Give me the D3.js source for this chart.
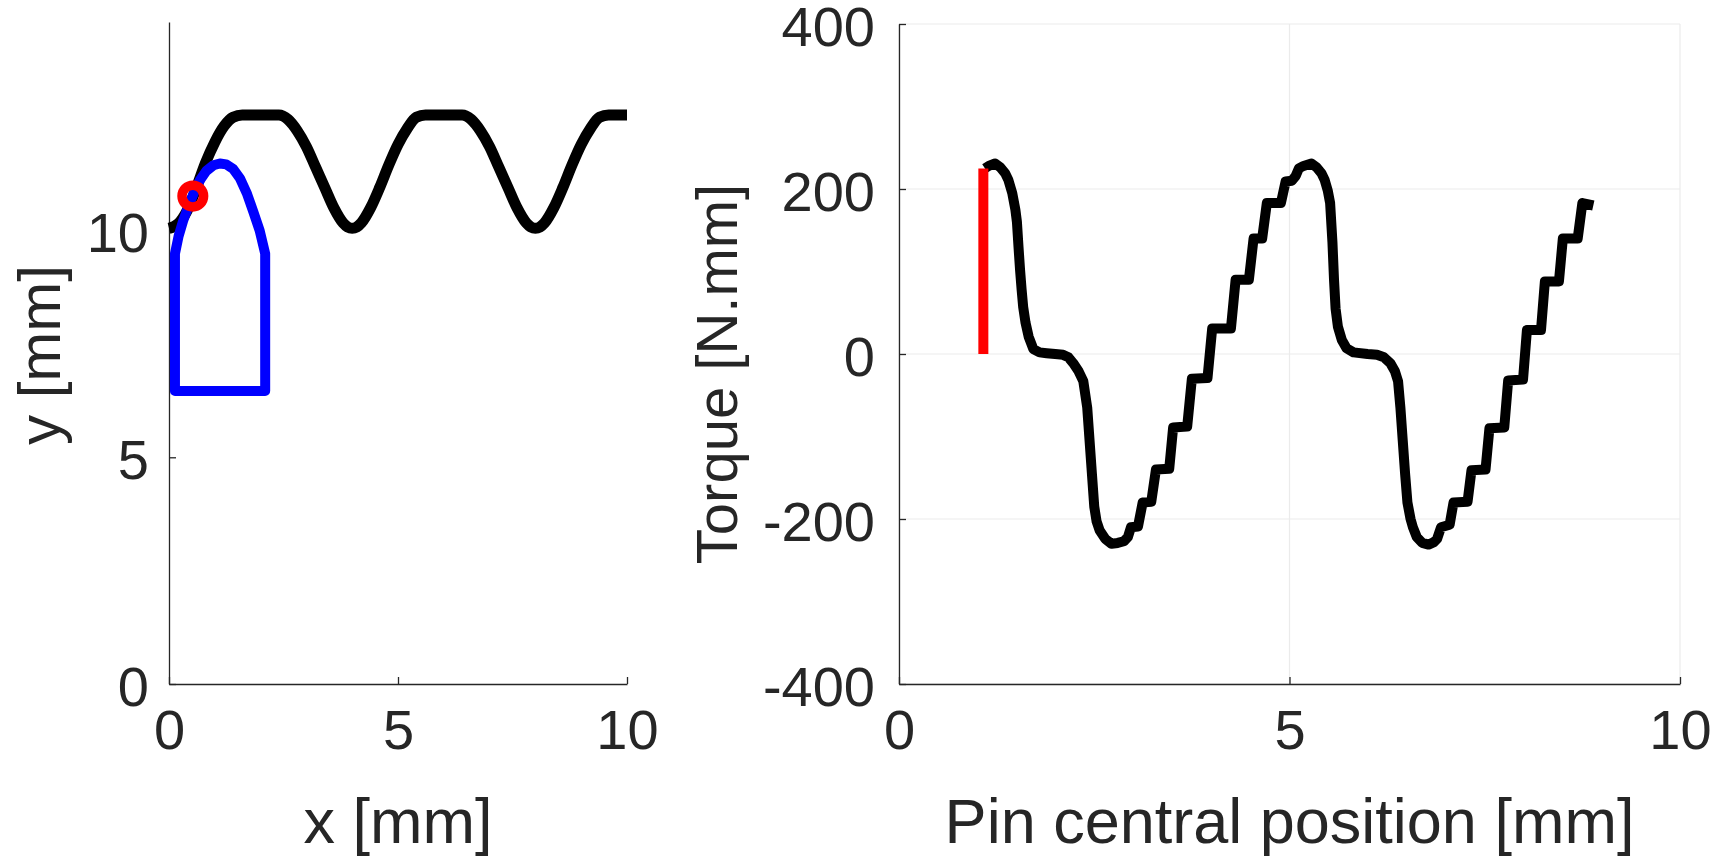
<!DOCTYPE html>
<html>
<head>
<meta charset="utf-8">
<script src="https://cdn.jsdelivr.net/npm/d3@7"></script>
<style>
  body { margin: 0; background: #fff; }
  svg { display: block; font-family: "Liberation Sans", Arial, sans-serif; }
</style>
</head>
<body>
<div id="chart"></div>
<script>
// cam profile (left panel)
const profileX = [0, 0.2, 0.4, 0.6, 0.8, 1.0, 1.2, 1.4, 1.6, 2.4, 2.6, 2.8, 3.0, 3.2, 3.4, 3.6, 3.8, 3.9, 4.0, 4.1,
                  4.2, 4.4, 4.6, 4.8, 5.0, 5.2, 5.4, 5.6, 6.4, 6.6, 6.8, 7.0, 7.2, 7.4, 7.6, 7.8, 7.9, 8.0, 8.1,
                  8.2, 8.4, 8.6, 8.8, 9.0, 9.2, 9.4, 9.6, 10];
const profileY = [10.05, 10.15, 10.45, 10.95, 11.5, 11.95, 12.3, 12.5, 12.55, 12.55, 12.45, 12.2, 11.85, 11.4, 10.95, 10.5, 10.17, 10.08, 10.05, 10.08,
                  10.17, 10.5, 10.95, 11.45, 11.9, 12.25, 12.5, 12.55, 12.55, 12.45, 12.2, 11.85, 11.4, 10.95, 10.5, 10.17, 10.08, 10.05, 10.08,
                  10.17, 10.5, 10.95, 11.45, 11.9, 12.25, 12.5, 12.55, 12.55];

// pin outline
const pinX = [0.13, 2.10, 2.10, 1.98, 1.84, 1.70, 1.55, 1.40, 1.25, 1.11, 0.97, 0.82, 0.68, 0.55, 0.43, 0.31, 0.21, 0.13];
const pinY = [6.46, 6.46, 9.49, 10.0, 10.42, 10.82, 11.15, 11.36, 11.46, 11.48, 11.44, 11.32, 11.12, 10.85, 10.55, 10.22, 9.88, 9.49];

// contact point
const contactX = 0.52;
const contactY = 10.76;

// torque vs pin central position (right panel)
const torquePos = [1.10, 1.15, 1.23, 1.30, 1.36, 1.40, 1.45, 1.49, 1.51, 1.53, 1.55, 1.57, 1.59, 1.62, 1.66, 1.72, 1.80, 1.89,
                   2.00, 2.10, 2.17, 2.23, 2.30, 2.36, 2.41, 2.44, 2.47, 2.50, 2.53, 2.57, 2.64, 2.72, 2.80, 2.88, 2.93, 2.97,
                   3.06, 3.12, 3.23, 3.29, 3.46, 3.51, 3.69, 3.75, 3.95, 4.01, 4.25, 4.31, 4.48, 4.54, 4.65, 4.71, 4.89, 4.95,
                   5.03, 5.08, 5.12, 5.18, 5.28, 5.35, 5.41, 5.45, 5.49, 5.52, 5.55, 5.57, 5.59, 5.62, 5.67, 5.73, 5.82,
                   6.00, 6.12, 6.21, 6.29, 6.35, 6.39, 6.42, 6.45, 6.48, 6.51, 6.55, 6.58, 6.63, 6.70, 6.78, 6.85, 6.89, 6.94,
                   7.05, 7.10, 7.28, 7.33, 7.51, 7.56, 7.75, 7.80, 7.99, 8.04, 8.22, 8.27, 8.45, 8.50, 8.69, 8.75, 8.89];
const torqueVal = [225, 228, 231, 226, 219, 211, 195, 175, 160, 130, 102, 78, 57, 38, 21, 6, 2, 1,
                   0, -1, -4, -11, -21, -33, -65, -105, -145, -185, -203, -214, -224, -230, -229, -227, -222, -210,
                   -209, -180, -179, -140, -139, -89, -88, -30, -29, 31, 31, 90, 90, 140, 140, 183, 183, 209,
                   210, 216, 225, 228, 231, 226, 219, 211, 198, 183, 135, 90, 55, 33, 17, 7, 2,
                   0, -1, -4, -11, -21, -33, -65, -105, -145, -180, -200, -210, -222, -229, -231, -228, -224, -210,
                   -207, -180, -179, -141, -140, -90, -89, -32, -31, 29, 29, 88, 88, 140, 140, 183, 180];

// current position marker
const markerPos = 1.08;
const markerVal = [0, 225];

// ticks
const camXTicks = [0, 5, 10];
const camYTicks = [0, 5, 10];
const torqueXTicks = [0, 5, 10];
const torqueYTicks = [-400, -200, 0, 200, 400];

const W = 1730, H = 862;
const ink = "#262626";
const tickFont = 56, labelFont = 63, vLabelFont = 60;

const svg = d3.select("#chart").append("svg")
  .attr("width", W)
  .attr("height", H);

svg.append("rect").attr("width", W).attr("height", H).attr("fill", "#fff");

function styleAxis(g) {
  g.attr("font-size", null).attr("font-family", null);
  g.select(".domain").attr("stroke", ink).attr("stroke-width", 1.3);
  g.selectAll(".tick line").attr("stroke", ink).attr("stroke-width", 1.3);
  g.selectAll(".tick text").attr("fill", ink).style("font-size", tickFont + "px");
}

// ---------- left panel ----------
const xCam = d3.scaleLinear().domain([0, 10]).range([169, 627]);
const yCam = d3.scaleLinear().domain([0, 14.6]).range([684, 22]);

svg.append("g")
  .attr("transform", `translate(0, ${yCam(0)})`)
  .call(d3.axisBottom(xCam).tickValues(camXTicks).tickFormat(d => String(d))
    .tickSizeInner(-7).tickSizeOuter(0).tickPadding(25))
  .call(styleAxis);

svg.append("g")
  .attr("transform", `translate(${xCam(0)}, 0)`)
  .call(d3.axisLeft(yCam).tickValues(camYTicks).tickFormat(d => String(d))
    .tickSizeInner(-7).tickSizeOuter(0).tickPadding(20))
  .call(styleAxis)
  .selectAll(".tick text").attr("dy", "0.38em");

const camLine = d3.line()
  .x(d => xCam(d[0]))
  .y(d => yCam(d[1]))
  .curve(d3.curveMonotoneX);

svg.append("path")
  .datum(profileX.map((x, i) => [x, profileY[i]]))
  .attr("d", camLine)
  .attr("fill", "none")
  .attr("stroke", "#000")
  .attr("stroke-width", 11)
  .attr("stroke-linejoin", "round");

const pinLine = d3.line()
  .x(d => xCam(d[0]))
  .y(d => yCam(d[1]));

svg.append("path")
  .datum(pinX.map((x, i) => [x, pinY[i]]))
  .attr("d", d => pinLine(d) + "Z")
  .attr("fill", "none")
  .attr("stroke", "#0000ff")
  .attr("stroke-width", 10)
  .attr("stroke-linejoin", "round");

svg.append("circle")
  .attr("cx", xCam(contactX))
  .attr("cy", yCam(contactY))
  .attr("r", 10.8)
  .attr("fill", "none")
  .attr("stroke", "#ff0000")
  .attr("stroke-width", 9.5);

svg.append("text")
  .attr("x", (xCam(0) + xCam(10)) / 2)
  .attr("y", 843)
  .attr("text-anchor", "middle")
  .attr("fill", ink)
  .style("font-size", labelFont + "px")
  .text("x [mm]");

svg.append("text")
  .attr("transform", `translate(60, ${(yCam(0) + yCam(14.6)) / 2 + 2}) rotate(-90)`)
  .attr("text-anchor", "middle")
  .attr("fill", ink)
  .style("font-size", vLabelFont + "px")
  .text("y [mm]");

// ---------- right panel ----------
const xT = d3.scaleLinear().domain([0, 10]).range([899, 1680]);
const yT = d3.scaleLinear().domain([-400, 400]).range([684, 24]);

const grid = svg.append("g").attr("stroke", "#ebebeb").attr("stroke-width", 1.2);
grid.selectAll("line.h")
  .data(torqueYTicks)
  .join("line")
    .attr("class", "h")
    .attr("x1", xT(0)).attr("x2", xT(10))
    .attr("y1", d => yT(d)).attr("y2", d => yT(d));
grid.selectAll("line.v")
  .data(torqueXTicks)
  .join("line")
    .attr("class", "v")
    .attr("x1", d => xT(d)).attr("x2", d => xT(d))
    .attr("y1", yT(-400)).attr("y2", yT(400));

svg.append("g")
  .attr("transform", `translate(0, ${yT(-400)})`)
  .call(d3.axisBottom(xT).tickValues(torqueXTicks).tickFormat(d => String(d))
    .tickSizeInner(-7).tickSizeOuter(0).tickPadding(25))
  .call(styleAxis);

svg.append("g")
  .attr("transform", `translate(${xT(0)}, 0)`)
  .call(d3.axisLeft(yT).tickValues(torqueYTicks).tickFormat(d => String(d))
    .tickSizeInner(-7).tickSizeOuter(0).tickPadding(24))
  .call(styleAxis)
  .selectAll(".tick text").attr("dy", "0.38em");

const torqueLine = d3.line()
  .x(d => xT(d[0]))
  .y(d => yT(d[1]));

svg.append("path")
  .datum(torquePos.map((x, i) => [x, torqueVal[i]]))
  .attr("d", torqueLine)
  .attr("fill", "none")
  .attr("stroke", "#000")
  .attr("stroke-width", 10)
  .attr("stroke-linejoin", "round");

svg.append("line")
  .attr("x1", xT(markerPos)).attr("x2", xT(markerPos))
  .attr("y1", yT(markerVal[0])).attr("y2", yT(markerVal[1]))
  .attr("stroke", "#ff0000")
  .attr("stroke-width", 10);

svg.append("text")
  .attr("x", (xT(0) + xT(10)) / 2)
  .attr("y", 843)
  .attr("text-anchor", "middle")
  .attr("fill", ink)
  .style("font-size", labelFont + "px")
  .text("Pin central position [mm]");

svg.append("text")
  .attr("transform", `translate(737, 374) rotate(-90)`)
  .attr("text-anchor", "middle")
  .attr("fill", ink)
  .style("font-size", (vLabelFont - 2) + "px")
  .text("Torque [N.mm]");
</script>
</body>
</html>
